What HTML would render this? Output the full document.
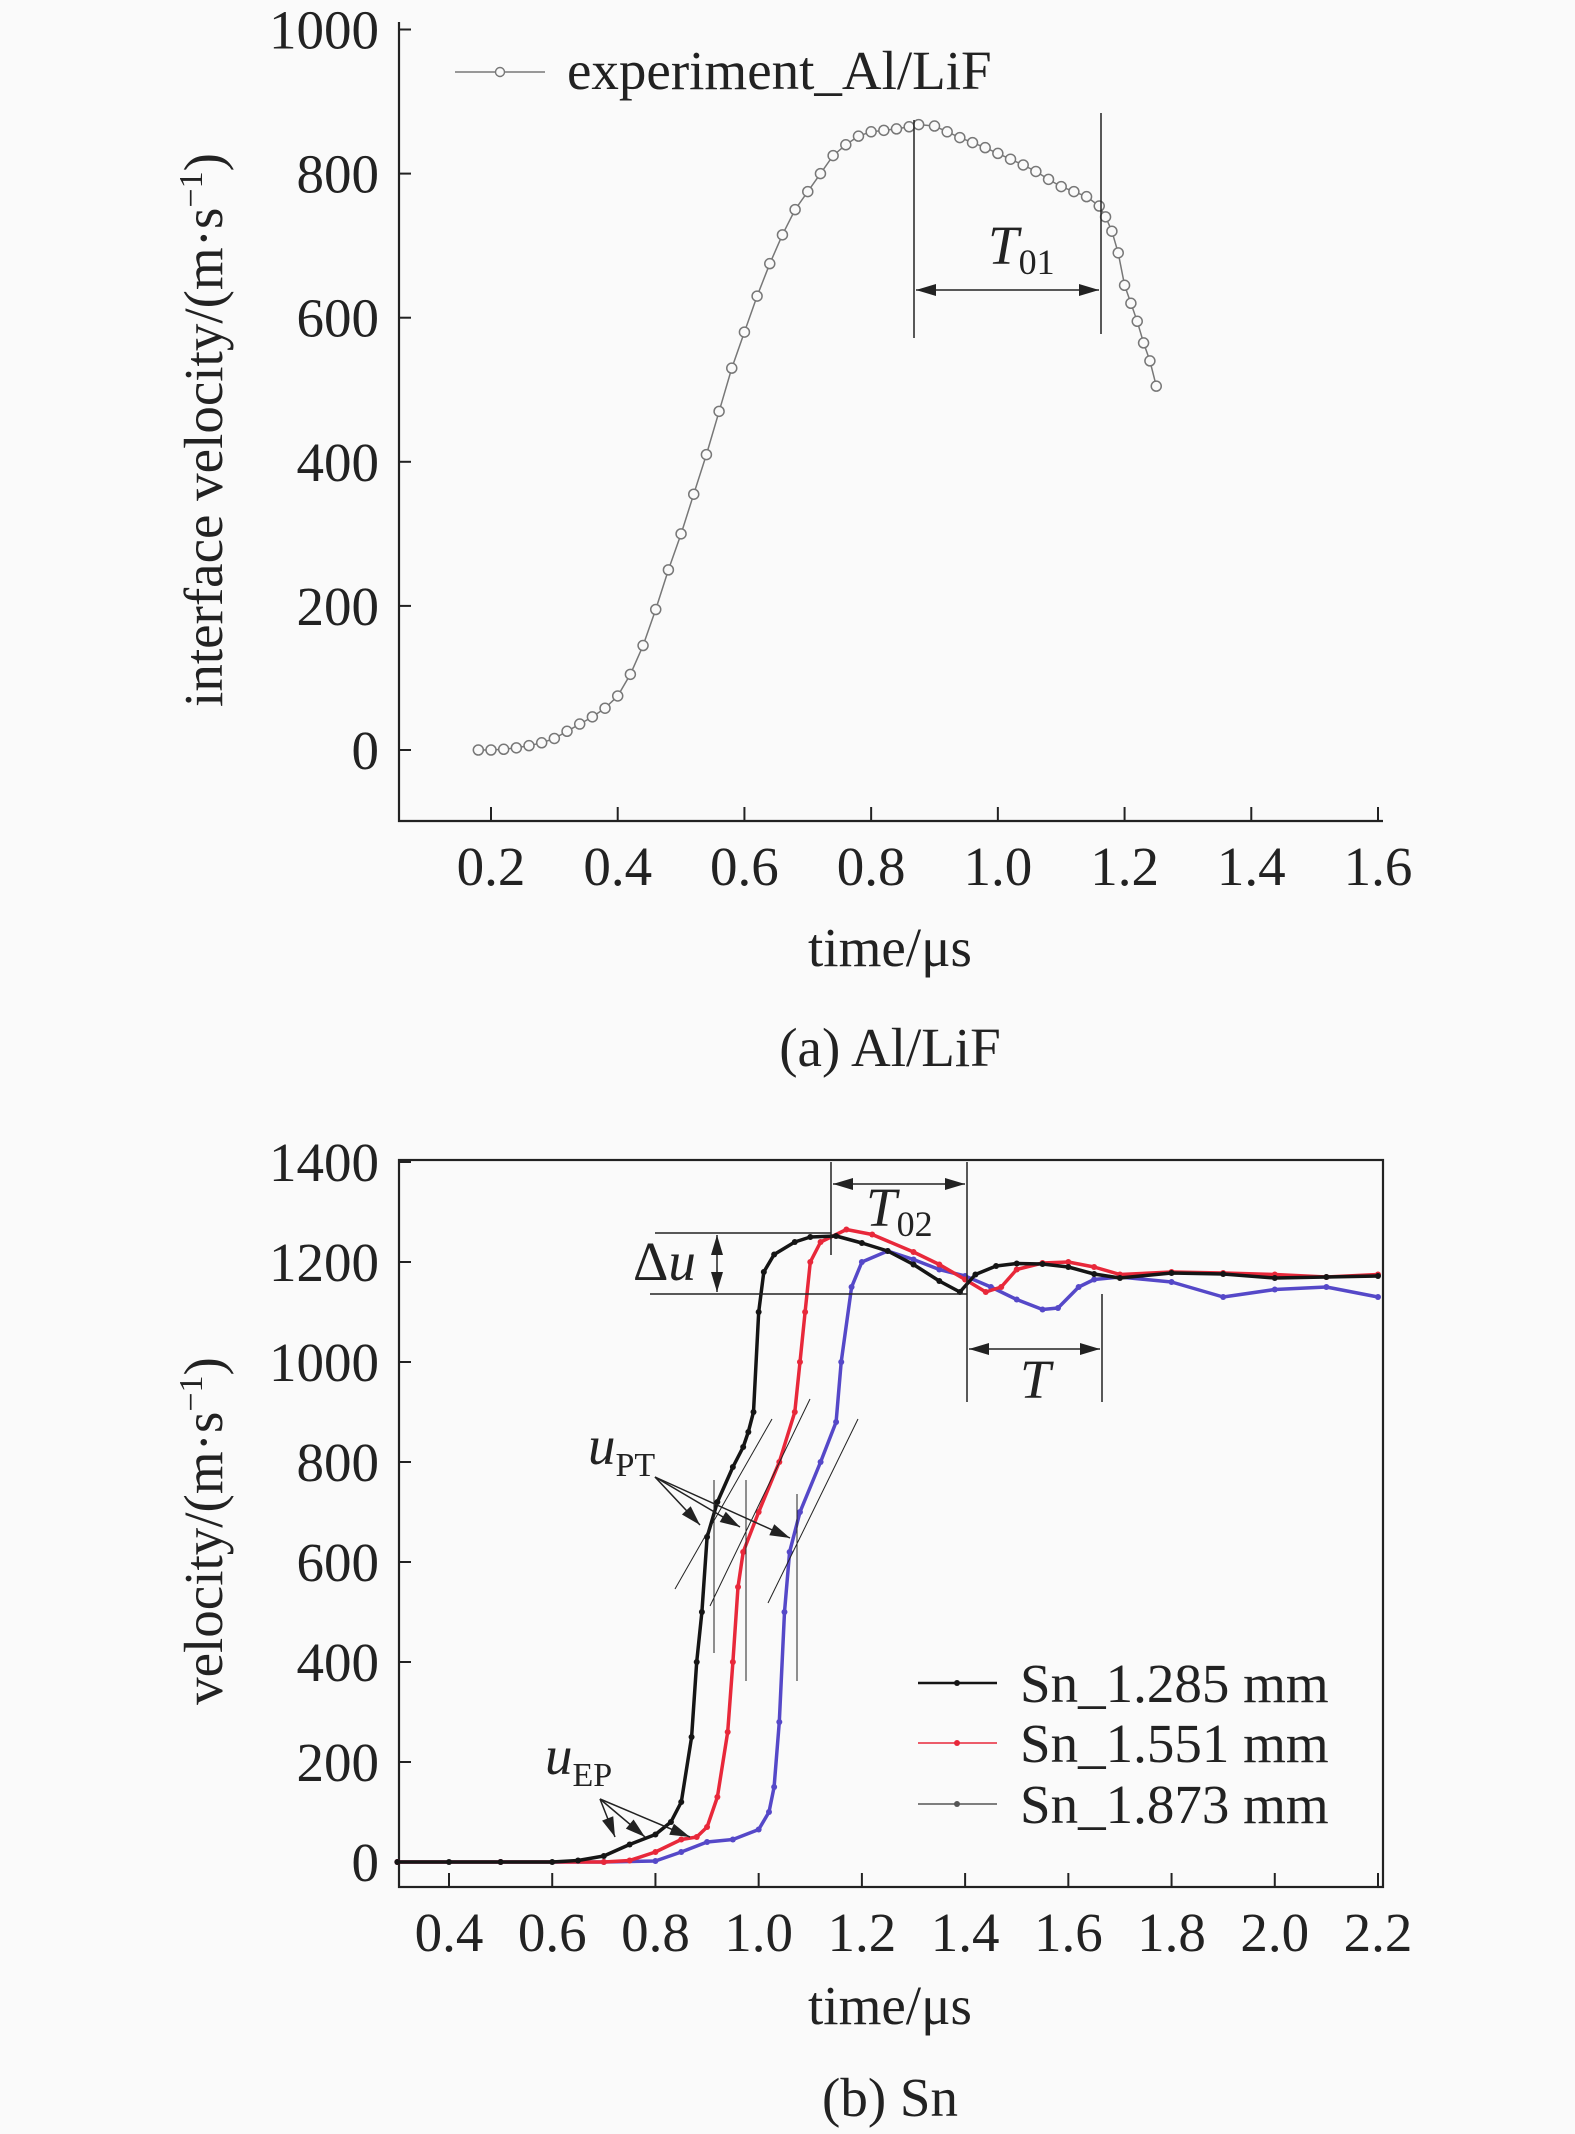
<!DOCTYPE html>
<html><head><meta charset="utf-8"><style>
html,body{margin:0;padding:0;background:#fafafa;}
svg{display:block;font-family:"Liberation Serif",serif;}
</style></head><body>
<svg id="fig" width="1575" height="2134" viewBox="0 0 1575 2134" xmlns="http://www.w3.org/2000/svg">
<rect width="1575" height="2134" fill="#fafafa"/>
<g id="chartA"></g>
<g id="chartB"></g>
</svg>
<script>
// ---------- Chart A data ----------
const aTime = [0.18,0.2,0.22,0.24,0.26,0.28,0.3,0.32,0.34,0.36,0.38,0.4,0.42,0.44,0.46,0.48,0.5,0.52,0.54,0.56,0.58,0.6,0.62,0.64,0.66,0.68,0.7,0.72,0.74,0.76,0.78,0.8,0.82,0.84,0.86,0.875,0.9,0.92,0.94,0.96,0.98,1.0,1.02,1.04,1.06,1.08,1.1,1.12,1.14,1.16,1.17,1.18,1.19,1.2,1.21,1.22,1.23,1.24,1.25];
const aVel = [0,0,1,3,6,10,16,26,36,46,58,75,105,145,195,250,300,355,410,470,530,580,630,675,715,750,775,800,825,840,852,858,860,862,865,868,866,858,850,843,836,828,820,812,803,792,782,775,768,755,740,720,690,645,620,595,565,540,505];
const aXTicks = [0.2,0.4,0.6,0.8,1.0,1.2,1.4,1.6];
const aYTicks = [0,200,400,600,800,1000];
// ---------- Chart B data ----------
const bCats = ["Sn_1.285 mm","Sn_1.551 mm","Sn_1.873 mm"];
const bT1 = [0.3,0.4,0.5,0.6,0.65,0.7,0.75,0.8,0.83,0.85,0.87,0.88,0.89,0.9,0.92,0.95,0.97,0.98,0.99,1.0,1.01,1.03,1.07,1.1,1.15,1.2,1.25,1.3,1.35,1.39,1.42,1.46,1.5,1.55,1.6,1.65,1.7,1.8,1.9,2.0,2.1,2.2];
const bV1 = [0,0,0,0,3,12,35,55,80,120,250,400,500,650,720,790,830,860,900,1100,1180,1215,1240,1250,1252,1238,1222,1195,1162,1140,1175,1192,1197,1196,1190,1176,1168,1178,1176,1168,1170,1172];
const bT2 = [0.3,0.5,0.7,0.75,0.8,0.85,0.88,0.9,0.92,0.94,0.95,0.96,0.97,1.0,1.04,1.07,1.08,1.09,1.1,1.12,1.17,1.22,1.3,1.35,1.4,1.44,1.47,1.5,1.55,1.6,1.65,1.7,1.8,1.9,2.0,2.1,2.2];
const bV2 = [0,0,0,3,20,45,50,70,130,260,400,550,620,700,800,900,1000,1100,1200,1240,1265,1255,1220,1195,1165,1140,1150,1185,1198,1200,1190,1175,1180,1178,1175,1170,1175];
const bT3 = [0.3,0.5,0.7,0.8,0.85,0.9,0.95,1.0,1.02,1.03,1.04,1.05,1.06,1.08,1.12,1.15,1.16,1.18,1.2,1.25,1.3,1.35,1.4,1.45,1.5,1.55,1.58,1.62,1.65,1.7,1.8,1.9,2.0,2.1,2.2];
const bV3 = [0,0,0,2,20,40,45,65,100,150,280,500,620,700,800,880,1000,1150,1200,1222,1205,1185,1172,1150,1125,1105,1108,1150,1165,1170,1160,1130,1145,1150,1130];
const bXTicks = [0.4,0.6,0.8,1.0,1.2,1.4,1.6,1.8,2.0,2.2];
const bYTicks = [0,200,400,600,800,1000,1200,1400];

const NS="http://www.w3.org/2000/svg";
const FS=55;
function mk(parent,tag,attrs,text){const e=document.createElementNS(NS,tag);for(const k in attrs)e.setAttribute(k,attrs[k]);if(text!==undefined)e.textContent=text;parent.appendChild(e);return e;}

// ---------- Chart A ----------
(function(){
const g=document.getElementById('chartA');
const L=399,R=1383,T=30,B=821;
const xA=t=>491+(t-0.2)*(1378-491)/1.4;
const yA=v=>750-v*(750-29.5)/1000;
let e;
e=mk(g,'path',{d:`M${L},${T-8}V${B}H${R}`,fill:'none',stroke:'#222','stroke-width':2.2});


aYTicks.forEach(v=>{
 e=mk(g,'line',{x1:L,x2:L+12,y1:yA(v),y2:yA(v),stroke:'#222','stroke-width':2});
 
 
 e=mk(g,'text',{x:L-20,y:yA(v)+19,'text-anchor':'end','font-size':FS,fill:'#222'},String(v));
 
 
});
aXTicks.forEach(t=>{
 e=mk(g,'line',{x1:xA(t),x2:xA(t),y1:B,y2:B-14,stroke:'#222','stroke-width':2});
 
 
 e=mk(g,'text',{x:xA(t),y:B+64,'text-anchor':'middle','font-size':FS,fill:'#222'},t.toFixed(1));
 
 
});
e=mk(g,'text',{x:890,y:966,'text-anchor':'middle','font-size':FS,fill:'#222'},'time/μs');


e=mk(g,'text',{x:0,y:0,transform:'translate(222,430) rotate(-90)','text-anchor':'middle','font-size':FS,fill:'#222'});


e.innerHTML='interface velocity/(m·s<tspan dy="-20" font-size="34">−1</tspan><tspan dy="20">)</tspan>';
e=mk(g,'text',{x:890,y:1066,'text-anchor':'middle','font-size':FS,fill:'#222'},'(a) Al/LiF');


const d=aTime.map((t,i)=>(i?'L':'M')+xA(t).toFixed(1)+','+yA(aVel[i]).toFixed(1)).join('');
e=mk(g,'path',{d:d,fill:'none',stroke:'#777','stroke-width':1.5});


aTime.forEach((t,i)=>{
 e=mk(g,'circle',{cx:xA(t),cy:yA(aVel[i]),r:5,fill:'#fafafa',stroke:'#777','stroke-width':1.5});
 
 
});
e=mk(g,'line',{x1:455,x2:545,y1:72,y2:72,stroke:'#777','stroke-width':1.5});


e=mk(g,'circle',{cx:500,cy:72,r:4.5,fill:'#fafafa',stroke:'#777','stroke-width':1.4});


e=mk(g,'text',{x:567,y:89,'font-size':FS,fill:'#222'},'experiment_Al/LiF');


const ann=mk(g,'g',{stroke:'#222','stroke-width':1.5,fill:'#222'});


mk(ann,'line',{x1:914,x2:914,y1:120,y2:338});
mk(ann,'line',{x1:1101,x2:1101,y1:113,y2:334});
mk(ann,'line',{x1:916,x2:1099,y1:290,y2:290});
mk(ann,'path',{d:'M916,290l20,-6v12z',stroke:'none'});
mk(ann,'path',{d:'M1099,290l-20,-6v12z',stroke:'none'});
e=mk(g,'text',{x:988,y:264,'font-size':FS,'font-style':'italic',fill:'#222'});


e.innerHTML='T<tspan dy="10" font-size="36" font-style="normal">01</tspan>';
})();

// ---------- Chart B ----------
(function(){
const g=document.getElementById('chartB');
const L=399,R=1383,T=1160,B=1887;
const xB=t=>449+(t-0.4)*(1378-449)/1.8;
const yB=v=>1862-v*(1862-1162)/1400;
let e;
e=mk(g,'rect',{x:L,y:T,width:R-L,height:B-T,fill:'none',stroke:'#222','stroke-width':2.2});


bYTicks.forEach(v=>{
 e=mk(g,'line',{x1:L,x2:L+12,y1:yB(v),y2:yB(v),stroke:'#222','stroke-width':2});
 
 
 e=mk(g,'text',{x:L-20,y:yB(v)+19,'text-anchor':'end','font-size':FS,fill:'#222'},String(v));
 
 
});
bXTicks.forEach(t=>{
 e=mk(g,'line',{x1:xB(t),x2:xB(t),y1:B,y2:B-14,stroke:'#222','stroke-width':2});
 
 
 e=mk(g,'text',{x:xB(t),y:B+64,'text-anchor':'middle','font-size':FS,fill:'#222'},t.toFixed(1));
 
 
});
e=mk(g,'text',{x:890,y:2024,'text-anchor':'middle','font-size':FS,fill:'#222'},'time/μs');


e=mk(g,'text',{x:0,y:0,transform:'translate(222,1531) rotate(-90)','text-anchor':'middle','font-size':FS,fill:'#222'});


e.innerHTML='velocity/(m·s<tspan dy="-20" font-size="34">−1</tspan><tspan dy="20">)</tspan>';
e=mk(g,'text',{x:890,y:2116,'text-anchor':'middle','font-size':FS,fill:'#222'},'(b) Sn');


const series=[[bT1,bV1,'#151515','series-sn-1285'],[bT2,bV2,'#e8283a','series-sn-1551'],[bT3,bV3,'#5548c8','series-sn-1873']];
[2,1,0].forEach(k=>{
 const [ts,vs,col,name]=series[k];
 const d=ts.map((t,i)=>(i?'L':'M')+xB(t).toFixed(1)+','+yB(vs[i]).toFixed(1)).join('');
 e=mk(g,'path',{d:d,fill:'none',stroke:col,'stroke-width':3.5,'stroke-linejoin':'round'});
 
 
 ts.forEach((t,i)=>{
  e=mk(g,'circle',{cx:xB(t),cy:yB(vs[i]),r:3,fill:col});
  
  
 });
});
const lc=['#151515','#e8283a','#555'];
[1683,1743,1804].forEach((y,i)=>{
 e=mk(g,'line',{x1:918,x2:997,y1:y,y2:y,stroke:lc[i],'stroke-width':i==0?2.5:1.5});
 
 
 e=mk(g,'circle',{cx:957,cy:y,r:3,fill:lc[i]});
 
 
 e=mk(g,'text',{x:1020,y:y+19,'font-size':FS,fill:'#222'},bCats[i]);
 
 
});
const an=mk(g,'g',{stroke:'#222','stroke-width':1.5,fill:'#222'});


const arrow=(x,y,dx,dy)=>{
 const px=-dy,py=dx;
 mk(an,'path',{d:`M${x},${y}L${x-dx*20+px*6},${y-dy*20+py*6}L${x-dx*20-px*6},${y-dy*20-py*6}z`,stroke:'none'});
};
mk(an,'line',{x1:831,x2:831,y1:1162,y2:1255});
mk(an,'line',{x1:967,x2:967,y1:1162,y2:1402});
mk(an,'line',{x1:833,x2:965,y1:1184,y2:1184});
arrow(833,1184,-1,0);arrow(965,1184,1,0);
mk(an,'line',{x1:655,x2:831,y1:1233,y2:1233});
mk(an,'line',{x1:650,x2:967,y1:1294,y2:1294});
mk(an,'line',{x1:717,x2:717,y1:1235,y2:1292});
arrow(717,1235,0,-1);arrow(717,1292,0,1);
mk(an,'line',{x1:1102,x2:1102,y1:1294,y2:1402});
mk(an,'line',{x1:969,x2:1100,y1:1349,y2:1349});
arrow(969,1349,-1,0);arrow(1100,1349,1,0);
mk(an,'line',{x1:675,y1:1589,x2:772,y2:1419,'stroke-width':1});
mk(an,'line',{x1:710,y1:1606,x2:810,y2:1399,'stroke-width':1});
mk(an,'line',{x1:768,y1:1603,x2:858,y2:1419,'stroke-width':1});
mk(an,'line',{x1:714,x2:714,y1:1480,y2:1653,'stroke-width':1});
mk(an,'line',{x1:746,x2:746,y1:1480,y2:1681,'stroke-width':1});
mk(an,'line',{x1:797,x2:797,y1:1494,y2:1681,'stroke-width':1});
[[700,1525],[740,1527],[790,1538]].forEach(([x,y])=>{
 mk(an,'line',{x1:655,y1:1477,x2:x,y2:y});
 const dx=x-655,dy=y-1477,l=Math.hypot(dx,dy);arrow(x,y,dx/l,dy/l);
});
[[615,1837],[645,1837],[690,1837]].forEach(([x,y])=>{
 mk(an,'line',{x1:600,y1:1799,x2:x,y2:y});
 const dx=x-600,dy=y-1799,l=Math.hypot(dx,dy);arrow(x,y,dx/l,dy/l);
});
const lab=(x,y,html,name)=>{
 e=mk(g,'text',{x:x,y:y,'font-size':FS,'font-style':'italic',fill:'#222'});
 
 
 e.innerHTML=html;
};
lab(866,1226,'T<tspan dy="10" font-size="36" font-style="normal">02</tspan>','t02-label');
lab(633,1280,'<tspan font-style="normal">Δ</tspan>u','delta-u-label');
lab(1020,1398,'T','t-label');
lab(588,1464,'u<tspan dy="12" font-size="34" font-style="normal">PT</tspan>','u-pt-label');
lab(545,1774,'u<tspan dy="12" font-size="34" font-style="normal">EP</tspan>','u-ep-label');
})();
</script>
</body></html>
